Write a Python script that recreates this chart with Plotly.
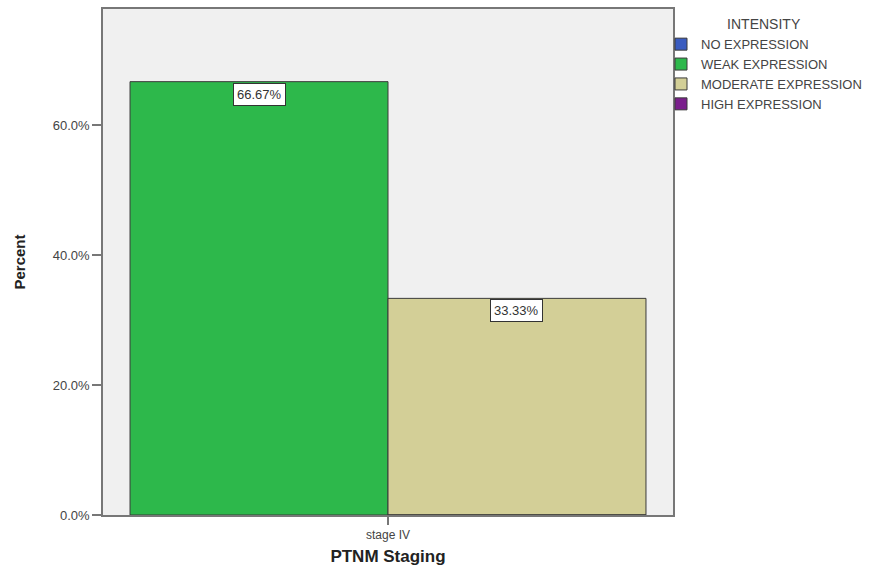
import plotly.graph_objects as go

categories = ["stage IV"]
series_names = ["NO EXPRESSION", "WEAK EXPRESSION", "MODERATE EXPRESSION", "HIGH EXPRESSION"]
series_values = [[0], [66.67], [33.33], [0]]
series_colors = ["#3a5cc0", "#2db84b", "#d3cf97", "#7a1f8c"]
show_label = [False, True, True, False]
y_ticks = [0, 20, 40, 60]

BAR_W = 0.4526
offsets = [-BAR_W, -BAR_W, 0.0, 0.0]

FONT = "Liberation Sans, Arial, sans-serif"

fig = go.Figure()
for name, vals, col, off, lab in zip(series_names, series_values, series_colors, offsets, show_label):
    xs = categories[:len(vals)]
    fig.add_trace(go.Bar(
        x=xs, y=vals, name=name,
        offset=off, width=BAR_W,
        marker=dict(color=col, line=dict(color="#3a3a3a", width=1)),
        hoverinfo="skip",
    ))
    if lab:
        for x, v in zip(xs, vals):
            fig.add_annotation(
                x=x, y=v, xref="x", yref="y",
                xshift=(off + BAR_W / 2) * 570,
                yanchor="top", yshift=-1,
                text=f"{v:.2f}%", showarrow=False,
                font=dict(family=FONT, size=13, color="#333"),
                bgcolor="white", bordercolor="#333", borderwidth=1, borderpad=3,
            )

fig.update_layout(
    width=875, height=570,
    barmode="overlay",
    paper_bgcolor="white",
    plot_bgcolor="#f0f0f0",
    margin=dict(l=103, r=202, t=9, b=55, autoexpand=False),
    font=dict(family=FONT, color="#444"),
    legend=dict(
        x=1.0 - 12 / 570, xanchor="left", y=1.0 - 2 / 506, yanchor="top",
        title=dict(text="INTENSITY", side="top center",
                   font=dict(family=FONT, size=14, color="#444")),
        font=dict(family=FONT, size=13, color="#444"),
        itemwidth=30, tracegroupgap=0,
        bgcolor="rgba(0,0,0,0)",
    ),
    showlegend=True,
)
fig.update_xaxes(
    type="category", range=[-0.5, 0.5],
    showline=True, linecolor="#777", linewidth=1.5, mirror=True,
    ticks="outside", ticklen=8, tickcolor="#777", tickwidth=1.5,
    tickfont=dict(family=FONT, size=12, color="#444"),
    title=dict(text="PTNM Staging", standoff=9,
               font=dict(family=FONT, size=17, color="#222", weight="bold")),
    showgrid=False, zeroline=False,
)
fig.update_yaxes(
    range=[0, 77.85],
    tickvals=y_ticks, ticktext=[f"{t:.1f}%" for t in y_ticks],
    showline=True, linecolor="#777", linewidth=1.5, mirror=True,
    ticks="outside", ticklen=9, tickcolor="#777", tickwidth=1.5,
    tickfont=dict(family=FONT, size=13, color="#444"),
    title=dict(text="Percent", standoff=24,
               font=dict(family=FONT, size=15, color="#222", weight="bold")),
    showgrid=False, zeroline=False,
)

fig.write_html("out.html")
